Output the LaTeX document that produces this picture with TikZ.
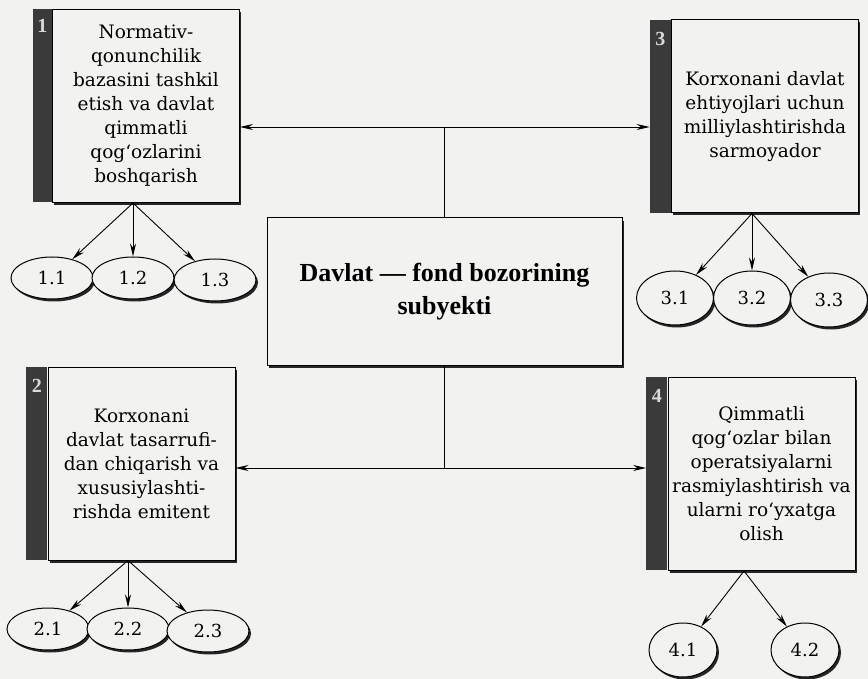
\documentclass[tikz,border=0pt]{standalone}
\usepackage{fontspec}
\setmainfont{Liberation Serif}
\newfontfamily\boxfont{DejaVu Serif}
\usetikzlibrary{arrows.meta,shadows,shapes.geometric,calc}
\definecolor{paper}{RGB}{242,242,240}
\definecolor{barcol}{RGB}{58,58,58}
\tikzset{
  box/.style={draw, line width=1pt, fill=paper, minimum width=187pt, minimum height=193pt,
    align=center, inner sep=2pt, font=\boxfont\fontsize{18.5}{24}\selectfont,
    drop shadow={shadow xshift=1.5pt, shadow yshift=-2.5pt, fill=black!85, opacity=1}},
  bar/.style={fill=barcol, inner sep=0pt, minimum width=21pt, minimum height=193pt, anchor=north east},
  mainbox/.style={draw, line width=1pt, fill=paper, minimum width=355pt, minimum height=147pt,
    align=center, font=\fontsize{26}{33}\selectfont\bfseries,
    drop shadow={shadow xshift=2pt, shadow yshift=-3pt, fill=black!85, opacity=1}},
  ell/.style={ellipse, draw, line width=1pt, fill=paper, inner sep=0pt,
    minimum width=82pt, minimum height=42pt, font=\boxfont\fontsize{18}{18}\selectfont,
    drop shadow={shadow xshift=2pt, shadow yshift=-2.5pt, fill=black!85, opacity=1}},
  num/.style={text=white!85!black, font=\fontsize{20}{20}\selectfont\bfseries},
  arr/.style={-{Stealth[length=13pt,width=6pt]}, line width=0.9pt},
  biarr/.style={{Stealth[length=13pt,width=6pt]}-{Stealth[length=13pt,width=6pt]}, line width=0.9pt}
}
\begin{document}
\begin{tikzpicture}[x=1pt,y=-1pt]
  %Frame
  \fill[paper] (0,0) rectangle (868,679);
  \useasboundingbox (0,0) rectangle (868,679);

  %Centre box
  \node[mainbox] (c) at (444.5,291.5) {Davlat --- fond bozorining\\subyekti};

  %Four role boxes
  \node[box] (b1) at (146,106) {Normativ-\\qonunchilik\\bazasini tashkil\\etish va davlat\\qimmatli\\qog‘ozlarini\\boshqarish};
  \node[box] (b3) at (765,116.5) {Korxonani davlat\\ehtiyojlari uchun\\milliylashtirishda\\sarmoyador};
  \node[box] (b2) at (141.5,463.5) {Korxonani\\davlat tasarrufi-\\dan chiqarish va\\xususiylashti-\\rishda emitent};
  \node[box] (b4) at (761.5,474) {Qimmatli\\qog‘ozlar bilan\\operatsiyalarni\\rasmiylashtirish va\\ularni ro‘yxatga\\olish};

  %Dark bars with numbers
  \node[bar, minimum width=19pt] (r1) at (b1.north west) {};
  \node[bar] (r2) at (b2.north west) {};
  \node[bar] (r3) at (b3.north west) {};
  \node[bar] (r4) at (b4.north west) {};
  \node[num] (n1) at ($(r1.north)+(0,17)$) {1};
  \node[num] (n2) at ($(r2.north)+(0,19)$) {2};
  \node[num] (n3) at ($(r3.north)+(0,19)$) {3};
  \node[num] (n4) at ($(r4.north)+(0,19)$) {4};

  %Links from the centre
  \coordinate (j1) at (443,127);
  \coordinate (j2) at (440,468);
  \draw[line width=0.9pt] (c.north) -- (c.north |- j1);
  \draw[biarr] (b1.east |- j1) -- (r3.west |- j1);
  \draw[line width=0.9pt] (c.south) -- (c.south |- j2);
  \draw[biarr] (b2.east |- j2) -- (r4.west |- j2);

  %Sub-items
  \node[ell] (e11) at (52,278) {1.1};
  \node[ell] (e12) at (133,278) {1.2};
  \node[ell] (e13) at (215,280) {1.3};
  \node[ell] (e21) at (48,629) {2.1};
  \node[ell] (e22) at (128,629) {2.2};
  \node[ell] (e23) at (208,631) {2.3};
  \node[ell, minimum width=77pt, minimum height=54pt] (e31) at (675,298) {3.1};
  \node[ell, minimum width=77pt, minimum height=54pt] (e32) at (752,298) {3.2};
  \node[ell, minimum width=77pt, minimum height=54pt] (e33) at (829,300) {3.3};
  \node[ell, minimum width=68pt, minimum height=54pt] (e41) at (683,650) {4.1};
  \node[ell, minimum width=68pt, minimum height=54pt] (e42) at (805,650) {4.2};

  %Arrows to sub-items
  \coordinate (s1) at (b1.south -| e12);
  \coordinate (s2) at (b2.south -| e22);
  \coordinate (s3) at (b3.south -| e32);
  \coordinate (m4) at ($(e41)!0.5!(e42)$);
  \coordinate (s4) at (m4 |- b4.south);
  \draw[arr] (s1) -- (e11);
  \draw[arr] (s1) -- (e12);
  \draw[arr] (s1) -- (e13);
  \draw[arr] (s2) -- (e21);
  \draw[arr] (s2) -- (e22);
  \draw[arr] (s2) -- (e23);
  \draw[arr] (s3) -- (e31);
  \draw[arr] (s3) -- (e32);
  \draw[arr] (s3) -- (e33);
  \draw[arr] (s4) -- (e41);
  \draw[arr] (s4) -- (e42);
\end{tikzpicture}
\end{document}
